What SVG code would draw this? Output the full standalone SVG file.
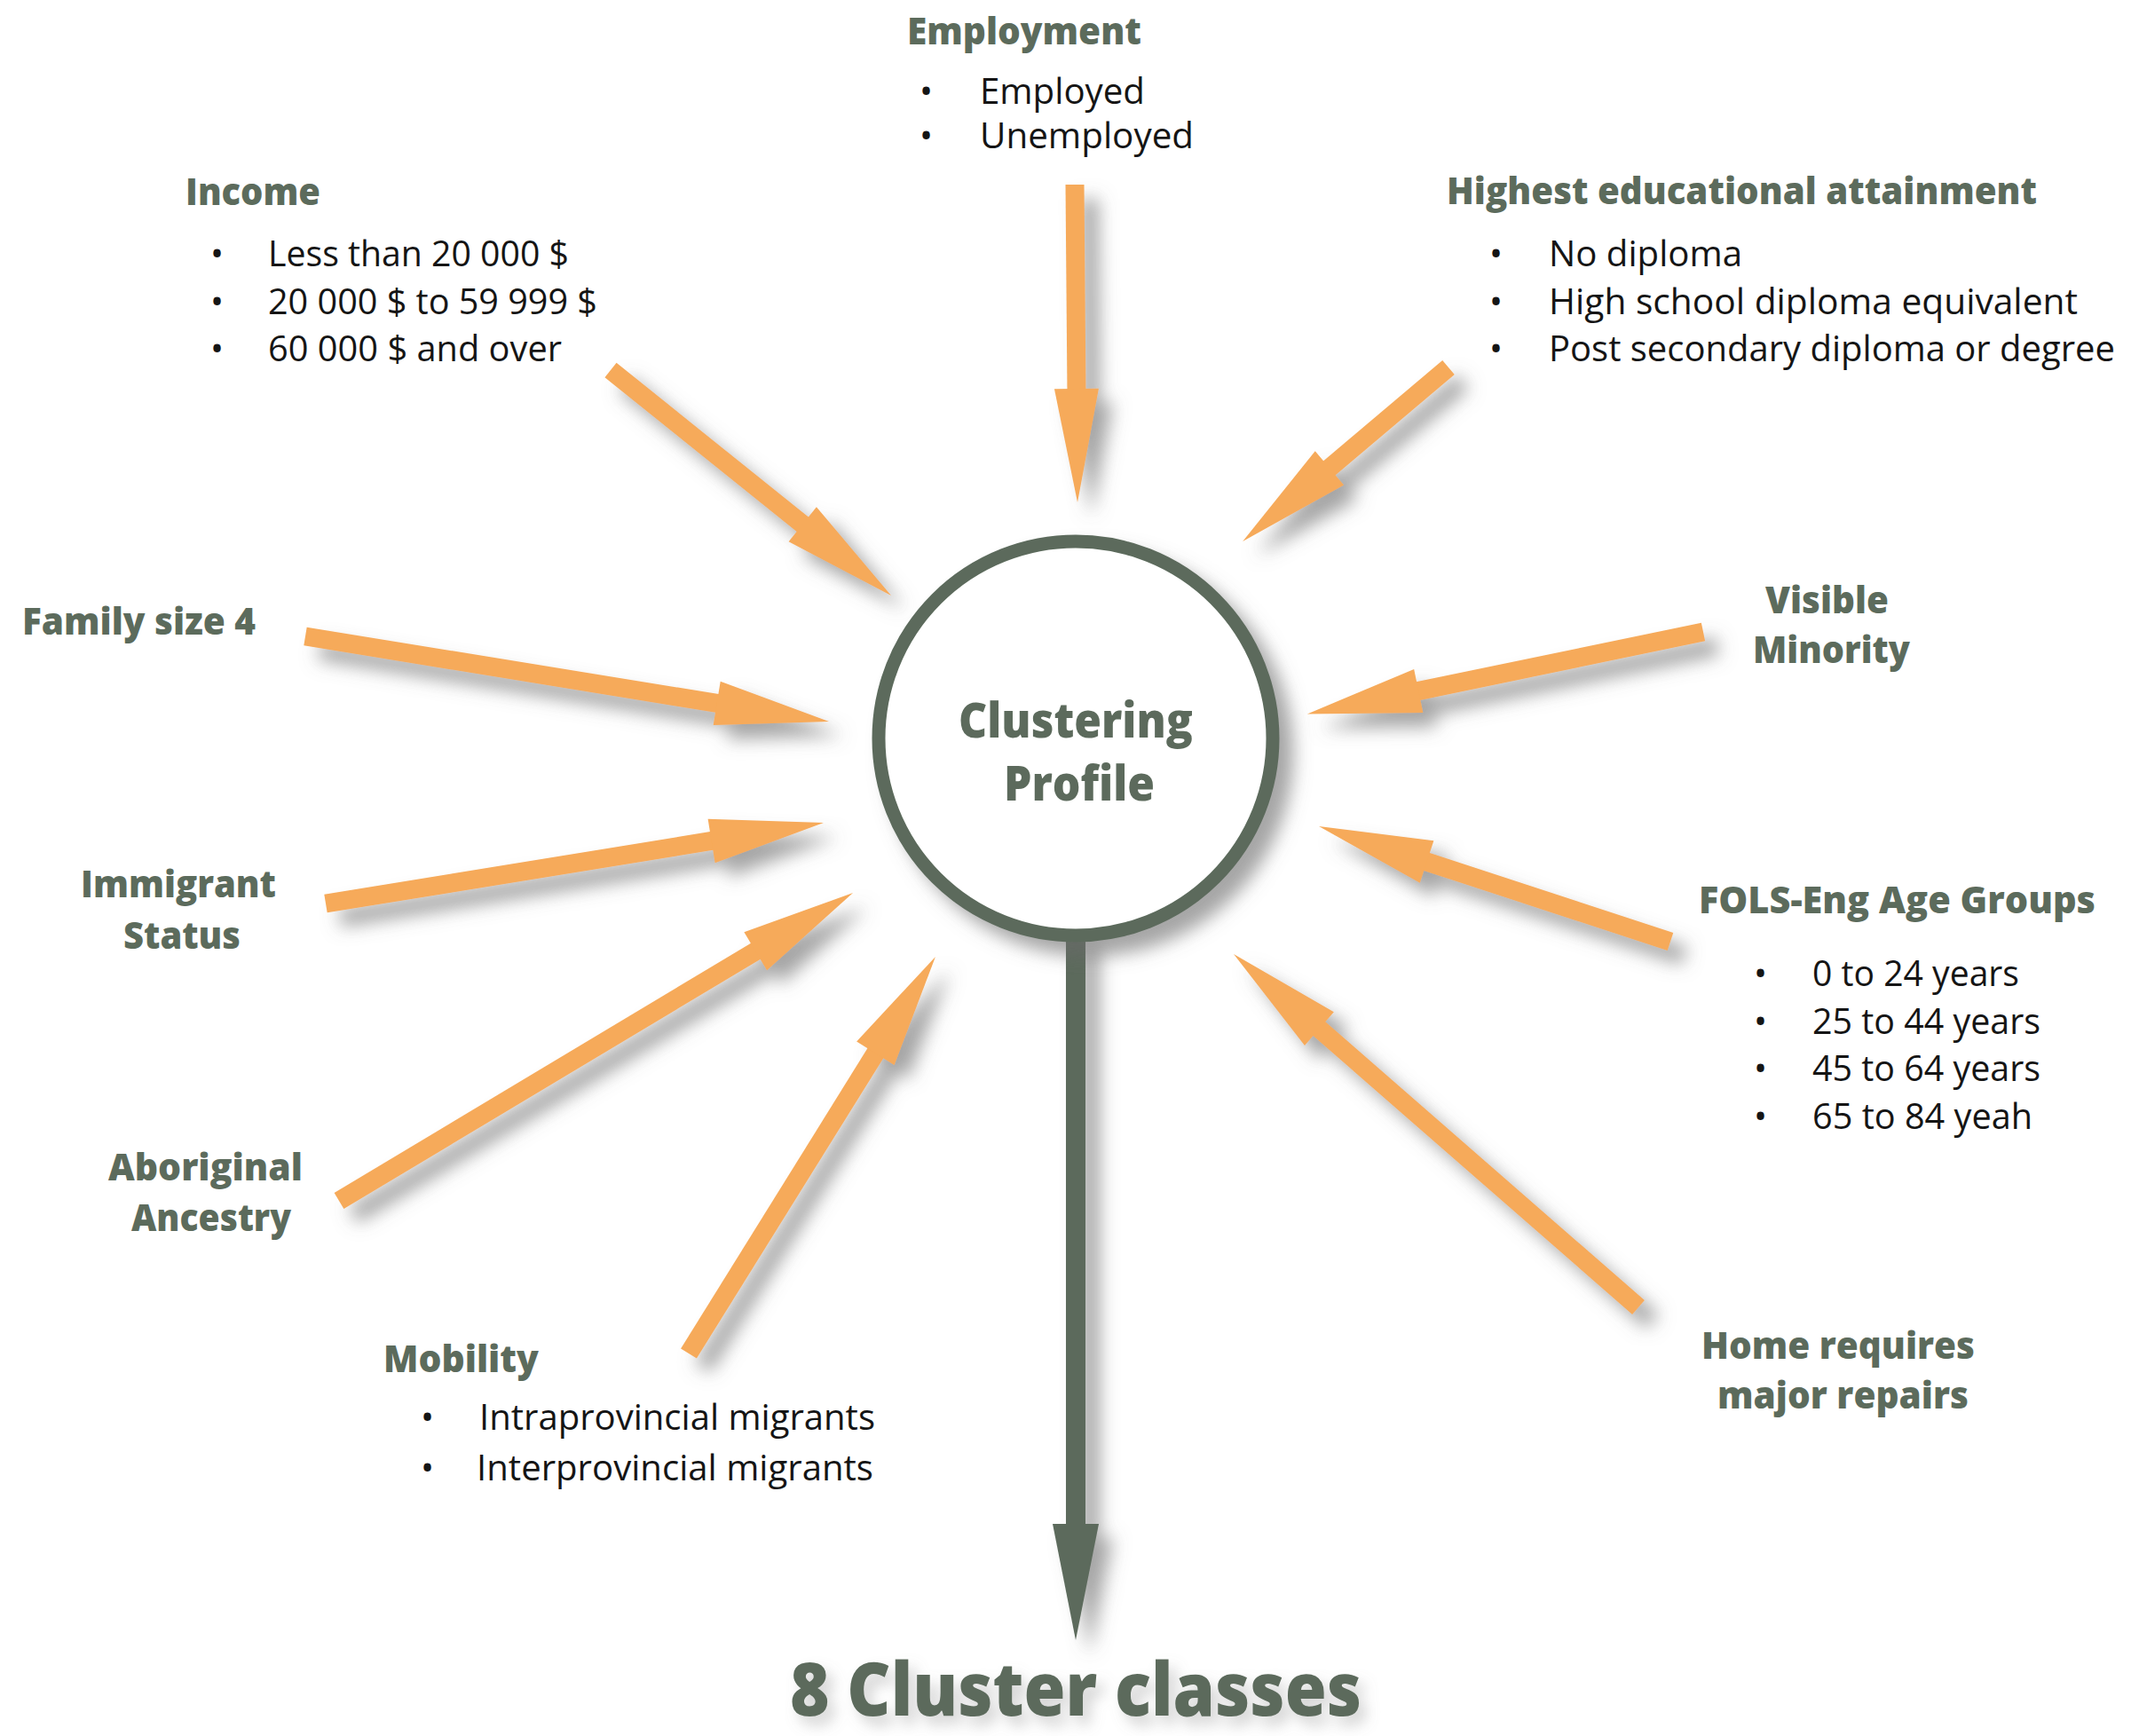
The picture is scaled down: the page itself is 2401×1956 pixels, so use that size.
<svg xmlns="http://www.w3.org/2000/svg" width="2401" height="1956" viewBox="0 0 2401 1956">
<style>
.h{font-family:"Open Sans","Noto Sans","Liberation Sans",sans-serif;font-weight:800;font-size:42px;fill:#5c6b5c}
.t{font-family:"Open Sans","Noto Sans","Liberation Sans",sans-serif;font-weight:400;font-size:40px;fill:#151515}
.c{font-family:"Open Sans","Noto Sans","Liberation Sans",sans-serif;font-weight:800;fill:#5c6b5c}
.a{stroke:#f6aa5a;stroke-width:21;fill:none}
.g{stroke:#5c6b5c;stroke-width:22;fill:none}
</style>
<defs>
<filter id="sh" filterUnits="userSpaceOnUse" x="0" y="0" width="2401" height="1956">
<feGaussianBlur in="SourceAlpha" stdDeviation="10"/>
<feOffset dx="16" dy="16" result="b"/>
<feFlood flood-color="#6a6a6a" flood-opacity="0.6"/>
<feComposite in2="b" operator="in"/>
<feMerge><feMergeNode/><feMergeNode in="SourceGraphic"/></feMerge>
</filter>
<filter id="sh2" filterUnits="userSpaceOnUse" x="0" y="0" width="2401" height="1956">
<feGaussianBlur in="SourceAlpha" stdDeviation="8"/>
<feOffset dx="8" dy="10" result="b"/>
<feFlood flood-color="#808080" flood-opacity="0.35"/>
<feComposite in2="b" operator="in"/>
<feMerge><feMergeNode/><feMergeNode in="SourceGraphic"/></feMerge>
</filter>
<marker id="ho" markerUnits="userSpaceOnUse" orient="auto" refX="8" refY="0" markerWidth="140" markerHeight="60" viewBox="0 -30 140 60" overflow="visible">
<path d="M0,-25 L128,0 L0,25 Z" fill="#f6aa5a"/>
</marker>
<marker id="hg" markerUnits="userSpaceOnUse" orient="auto" refX="8" refY="0" markerWidth="140" markerHeight="60" viewBox="0 -30 140 60" overflow="visible">
<path d="M0,-26 L131,0 L0,26 Z" fill="#5c6b5c"/>
</marker>
</defs>
<rect width="2401" height="1956" fill="#ffffff"/>

<g id="connectors" filter="url(#sh)">
<line class="a" x1="1211" y1="208" x2="1213" y2="446" marker-end="url(#ho)"/>
<line class="a" x1="688" y1="417" x2="910.5" y2="595.8" marker-end="url(#ho)"/>
<line class="a" x1="1632" y1="414" x2="1491.8" y2="532.5" marker-end="url(#ho)"/>
<line class="a" x1="344" y1="717" x2="815.6" y2="793.7" marker-end="url(#ho)"/>
<line class="a" x1="367" y1="1018" x2="809.5" y2="946.2" marker-end="url(#ho)"/>
<line class="a" x1="382" y1="1353" x2="858.1" y2="1067.7" marker-end="url(#ho)"/>
<line class="a" x1="776" y1="1525" x2="990.6" y2="1179.9" marker-end="url(#ho)"/>
<line class="a" x1="1919" y1="712" x2="1590.4" y2="780.1" marker-end="url(#ho)"/>
<line class="a" x1="1882" y1="1061" x2="1600" y2="968.4" marker-end="url(#ho)"/>
<line class="a" x1="1846" y1="1473" x2="1480.4" y2="1153.9" marker-end="url(#ho)"/>
<line class="g" x1="1212" y1="1050" x2="1212" y2="1725" marker-end="url(#hg)"/>
</g>

<g id="clustering-profile" filter="url(#sh)">
<circle cx="1212" cy="832" r="222" fill="#ffffff" stroke="#5c6b5c" stroke-width="15"/>
<text class="c" font-size="54" x="1212" y="831" text-anchor="middle" textLength="264" lengthAdjust="spacingAndGlyphs">Clustering</text>
<text class="c" font-size="54" x="1216" y="902" text-anchor="middle" textLength="170" lengthAdjust="spacingAndGlyphs">Profile</text>
</g>

<g id="employment">
<text class="h" x="1022" y="50" textLength="264" lengthAdjust="spacingAndGlyphs">Employment</text>
<text class="t" x="1036" y="117">•</text>
<text class="t" x="1104" y="117" textLength="186" lengthAdjust="spacingAndGlyphs">Employed</text>
<text class="t" x="1036" y="167">•</text>
<text class="t" x="1104" y="167" textLength="241" lengthAdjust="spacingAndGlyphs">Unemployed</text>
</g>

<g id="income">
<text class="h" x="209" y="231" textLength="152" lengthAdjust="spacingAndGlyphs">Income</text>
<text class="t" x="237" y="300">•</text>
<text class="t" x="302" y="300" textLength="339" lengthAdjust="spacingAndGlyphs">Less than 20 000 $</text>
<text class="t" x="237" y="354">•</text>
<text class="t" x="302" y="354" textLength="371" lengthAdjust="spacingAndGlyphs">20 000 $ to 59 999 $</text>
<text class="t" x="237" y="407">•</text>
<text class="t" x="302" y="407" textLength="331" lengthAdjust="spacingAndGlyphs">60 000 $ and over</text>
</g>

<g id="education">
<text class="h" x="1630" y="230" textLength="665" lengthAdjust="spacingAndGlyphs">Highest educational attainment</text>
<text class="t" x="1678" y="300">•</text>
<text class="t" x="1745" y="300" textLength="218" lengthAdjust="spacingAndGlyphs">No diploma</text>
<text class="t" x="1678" y="354">•</text>
<text class="t" x="1745" y="354" textLength="596" lengthAdjust="spacingAndGlyphs">High school diploma equivalent</text>
<text class="t" x="1678" y="407">•</text>
<text class="t" x="1745" y="407" textLength="638" lengthAdjust="spacingAndGlyphs">Post secondary diploma or degree</text>
</g>

<g id="family-size">
<text class="h" x="25" y="715" textLength="263" lengthAdjust="spacingAndGlyphs">Family size 4</text>
</g>

<g id="immigrant-status">
<text class="h" x="91" y="1011" textLength="220" lengthAdjust="spacingAndGlyphs">Immigrant</text>
<text class="h" x="139" y="1069" textLength="132" lengthAdjust="spacingAndGlyphs">Status</text>
</g>

<g id="aboriginal-ancestry">
<text class="h" x="122" y="1330" textLength="219" lengthAdjust="spacingAndGlyphs">Aboriginal</text>
<text class="h" x="148" y="1387" textLength="180" lengthAdjust="spacingAndGlyphs">Ancestry</text>
</g>

<g id="mobility">
<text class="h" x="432" y="1546" textLength="175" lengthAdjust="spacingAndGlyphs">Mobility</text>
<text class="t" x="474" y="1611">•</text>
<text class="t" x="540" y="1611" textLength="446" lengthAdjust="spacingAndGlyphs">Intraprovincial migrants</text>
<text class="t" x="474" y="1668">•</text>
<text class="t" x="537" y="1668" textLength="447" lengthAdjust="spacingAndGlyphs">Interprovincial migrants</text>
</g>

<g id="visible-minority">
<text class="h" x="1989" y="691" textLength="139" lengthAdjust="spacingAndGlyphs">Visible</text>
<text class="h" x="1975" y="747" textLength="177" lengthAdjust="spacingAndGlyphs">Minority</text>
</g>

<g id="fols-eng-age-groups">
<text class="h" x="1914" y="1029" textLength="447" lengthAdjust="spacingAndGlyphs">FOLS-Eng Age Groups</text>
<text class="t" x="1976" y="1111">•</text>
<text class="t" x="2042" y="1111" textLength="233" lengthAdjust="spacingAndGlyphs">0 to 24 years</text>
<text class="t" x="1976" y="1165">•</text>
<text class="t" x="2042" y="1165" textLength="257" lengthAdjust="spacingAndGlyphs">25 to 44 years</text>
<text class="t" x="1976" y="1218">•</text>
<text class="t" x="2042" y="1218" textLength="257" lengthAdjust="spacingAndGlyphs">45 to 64 years</text>
<text class="t" x="1976" y="1272">•</text>
<text class="t" x="2042" y="1272" textLength="248" lengthAdjust="spacingAndGlyphs">65 to 84 yeah</text>
</g>

<g id="home-repairs">
<text class="h" x="1917" y="1531" textLength="308" lengthAdjust="spacingAndGlyphs">Home requires</text>
<text class="h" x="1935" y="1587" textLength="283" lengthAdjust="spacingAndGlyphs">major repairs</text>
</g>

<g id="cluster-classes" filter="url(#sh2)">
<text class="c" font-size="84" x="890" y="1933" textLength="644" lengthAdjust="spacingAndGlyphs">8 Cluster classes</text>
</g>
</svg>
